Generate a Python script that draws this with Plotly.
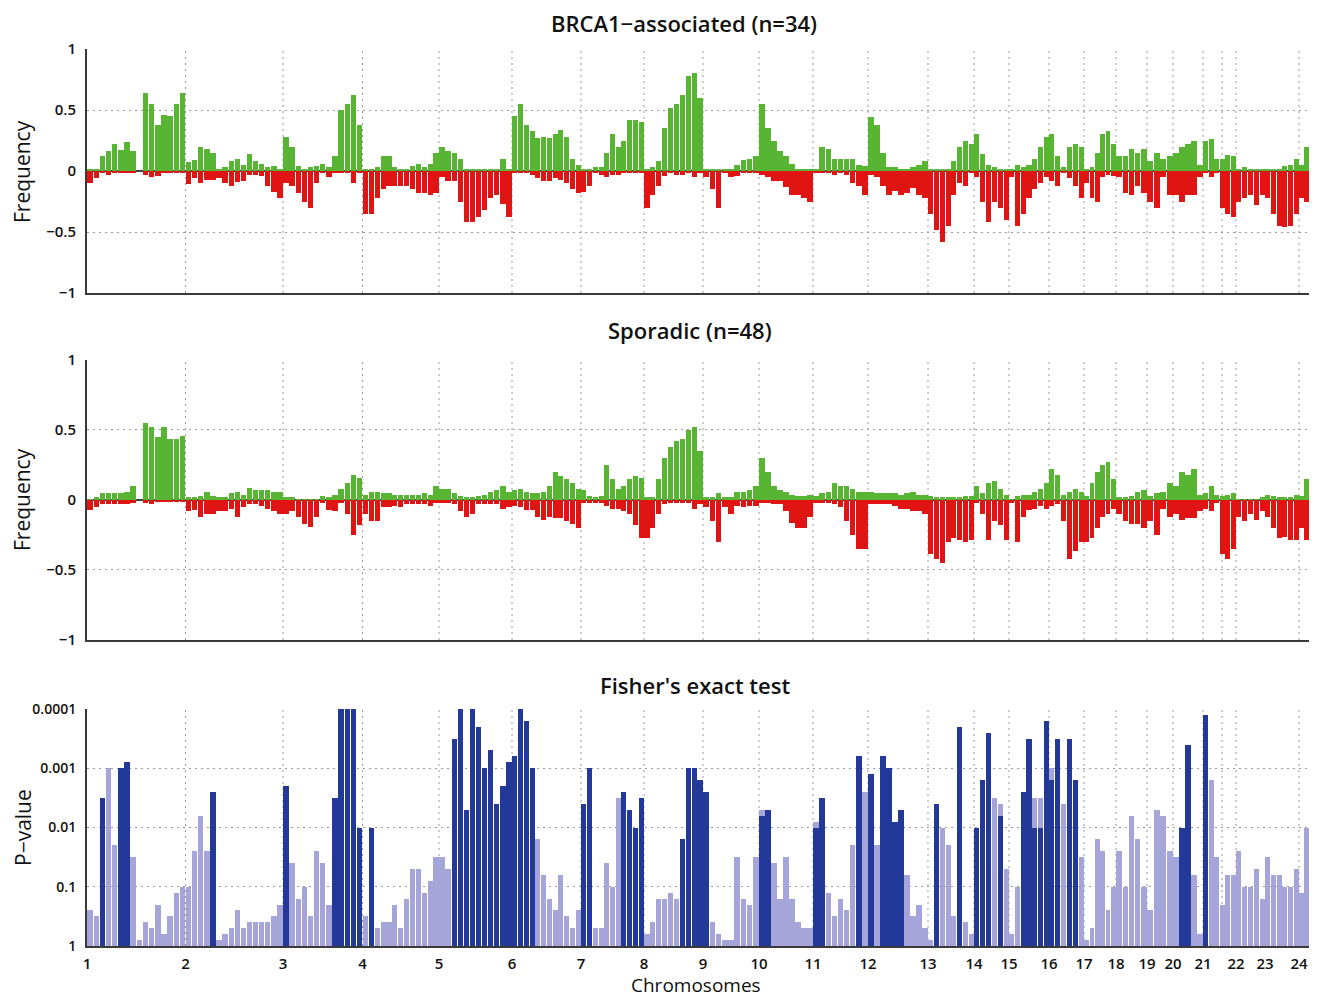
import plotly.graph_objects as go

# ---------------- chromosome layout (genome index units) ----------------
CHROM_LABELS = ["1", "2", "3", "4", "5", "6", "7", "8", "9", "10", "11", "12",
                "13", "14", "15", "16", "17", "18", "19", "20", "21", "22", "23", "24"]
CHROM_START = [0, 98.5, 196, 275.5, 352, 425, 494, 557, 616, 672, 726, 781,
               841, 887, 922, 962, 997, 1029, 1060, 1086, 1116, 1149, 1178, 1212]
GENOME_END = 1222
# dotted vertical grid lines of the original figure
GRID_X = [98.5, 196, 275.5, 352, 425, 494, 557, 616, 672, 726, 781,
          841, 887, 922, 962, 997, 1029, 1060, 1086, 1116, 1135, 1149, 1212]
BINS_PER_CHROM = [16, 16, 13, 13, 12, 12, 11, 10, 9, 9, 9, 10, 8, 6, 7, 6, 6, 5, 4, 5, 6, 5, 6, 2]

# ---------------- BRCA1-associated (n=34): frequency in % ----------------
BRCA_GAIN = [
    1, 2, 12, 16, 22, 17, 24, 16, 0, 64, 55, 38, 46, 45, 55, 64,
    7, 9, 20, 18, 15, 2, 3, 8, 10, 5, 14, 8, 6, 3, 4, 2,
    28, 20, 4, 2, 3, 4, 6, 3, 12, 50, 55, 62, 38,
    1, 2, 3, 12, 12, 3, 2, 2, 4, 6, 3, 6, 15,
    20, 16, 15, 10, 2, 2, 1, 1, 2, 2, 10, 2,
    45, 55, 38, 33, 27, 28, 27, 30, 34, 28, 10, 5,
    2, 2, 3, 3, 15, 30, 20, 25, 42, 42, 40,
    1, 3, 8, 35, 52, 55, 62, 78, 80, 60,
    2, 2, 1, 1, 2, 5, 9, 10, 12,
    55, 35, 25, 16, 12, 6, 2, 1, 2,
    2, 20, 18, 10, 10, 10, 10, 5, 4,
    44, 38, 15, 3, 3, 2, 2, 3, 5, 8,
    1, 1, 1, 2, 8, 20, 25, 22,
    30, 14, 5, 3, 2, 1,
    1, 5, 3, 5, 10, 20, 28,
    30, 12, 3, 20, 22, 20,
    2, 3, 15, 30, 33, 22,
    12, 12, 18, 15, 18,
    8, 15, 10, 12,
    15, 20, 22, 25, 5,
    25, 26, 10, 10, 13, 12,
    2, 3, 2, 1, 1,
    1, 1, 2, 4, 5, 10,
    5, 20,
]
BRCA_LOSS = [
    -10, -6, -2, -3, -2, -2, -2, -1, 0, -3, -5, -4, -1, -1, -1, -1,
    -11, -6, -10, -7, -7, -6, -10, -12, -9, -8, -3, -3, -4, -12, -17, -22,
    -10, -12, -18, -25, -30, -10, -1, -5, -2, -1, -2, -10, -1,
    -35, -35, -22, -15, -12, -12, -12, -12, -15, -18, -18, -20, -18,
    -5, -8, -8, -25, -42, -42, -38, -32, -22, -20, -27, -38,
    -2, -2, -2, -3, -6, -8, -8, -6, -7, -10, -15, -18,
    -17, -12, -2, -3, -5, -3, -3, -2, -1, -1, -2,
    -30, -20, -12, -4, -2, -3, -3, -1, -5, -1,
    -5, -15, -30, -2, -5, -4, -1, -1, -1,
    -3, -5, -8, -8, -13, -20, -20, -22, -25,
    -2, -2, -2, -3, -2, -3, -10, -12, -20,
    -3, -5, -12, -20, -16, -20, -18, -14, -20, -22,
    -35, -48, -58, -45, -20, -10, -12, -2,
    -5, -25, -42, -25, -30, -40,
    -5, -45, -35, -22, -15, -10, -5,
    -8, -12, -2, -6, -12, -22,
    -10, -22, -25, -5, -3, -4,
    -5, -18, -20, -12, -18,
    -25, -30, -5, -20,
    -20, -25, -20, -20, -5,
    -2, -5, -2, -30, -35, -38,
    -25, -22, -20, -28, -20,
    -22, -35, -45, -46, -45, -35,
    -22, -25,
]

# ---------------- Sporadic (n=48): frequency in % ----------------
SPOR_GAIN = [
    1, 2, 5, 5, 5, 5, 6, 10, 0, 55, 52, 45, 52, 44, 44, 46,
    2, 2, 3, 6, 3, 2, 2, 5, 6, 4, 9, 7, 7, 7, 6, 6,
    2, 2, 1, 1, 1, 1, 3, 2, 4, 8, 12, 18, 16,
    4, 6, 6, 5, 5, 4, 4, 4, 4, 4, 5, 4, 10,
    8, 8, 5, 3, 2, 2, 3, 4, 6, 7, 10, 6,
    7, 8, 6, 5, 5, 6, 10, 20, 17, 15, 12, 8,
    7, 3, 2, 3, 25, 15, 8, 10, 15, 17, 16,
    2, 2, 15, 30, 38, 42, 44, 50, 52, 35,
    2, 2, 5, 2, 2, 6, 6, 7, 10,
    30, 20, 10, 7, 6, 4, 3, 3, 4,
    3, 5, 6, 12, 10, 10, 8, 6, 6,
    6, 5, 5, 5, 5, 4, 5, 6, 4, 4,
    3, 2, 2, 2, 2, 2, 3, 3,
    10, 5, 12, 14, 8, 4,
    1, 3, 4, 4, 6, 8, 12,
    22, 18, 4, 6, 8, 6,
    3, 12, 20, 25, 27, 15,
    2, 2, 3, 6, 7,
    3, 5, 6, 12,
    10, 20, 18, 22, 4,
    5, 10, 4, 3, 4, 5,
    1, 1, 1, 1, 2,
    4, 3, 2, 2, 2, 4,
    3, 15,
]
SPOR_LOSS = [
    -7, -5, -3, -3, -3, -3, -3, -2, 0, -2, -3, -1, -1, -1, -1, -1,
    -8, -7, -12, -10, -10, -8, -8, -6, -12, -5, -3, -3, -4, -6, -8, -10,
    -10, -8, -12, -17, -19, -12, -2, -7, -8, -2, -10, -25, -18,
    -10, -15, -15, -5, -5, -4, -5, -3, -3, -3, -3, -4, -2,
    -2, -2, -3, -8, -12, -10, -3, -3, -3, -3, -6, -5,
    -4, -5, -7, -7, -12, -14, -12, -13, -13, -15, -17, -20,
    -2, -2, -2, -2, -4, -6, -6, -8, -10, -18, -27,
    -27, -20, -10, -3, -2, -2, -2, -2, -6, -3,
    -5, -15, -30, -5, -10, -4, -5, -4, -4,
    -2, -2, -3, -3, -8, -16, -20, -20, -12,
    -2, -2, -2, -3, -5, -15, -25, -35, -35,
    -3, -3, -3, -3, -4, -6, -6, -8, -8, -10,
    -38, -42, -45, -30, -27, -28, -30, -28,
    -2, -10, -28, -15, -18, -28,
    -2, -30, -12, -7, -6, -4, -6,
    -4, -3, -15, -42, -36, -30,
    -30, -27, -20, -12, -10, -6,
    -10, -15, -17, -17, -20,
    -15, -25, -6, -12,
    -10, -14, -13, -13, -8,
    -6, -8, -2, -38, -42, -35,
    -12, -15, -10, -14, -8,
    -12, -20, -27, -26, -28, -28,
    -20, -28,
]

# ---------------- Fisher's exact test: -log10(p) in tenths ----------------
FISHER_ALL = [
    6, 5, 6, 30, 17, 17, 18, 15, 1, 4, 3, 7, 2, 5, 9, 10,
    10, 16, 22, 16, 12, 1, 2, 3, 6, 3, 4, 4, 4, 4, 5, 7,
    18, 14, 8, 10, 5, 16, 14, 7, 6, 0, 0, 30, 12,
    5, 4, 3, 4, 4, 7, 3, 8, 13, 13, 9, 11, 15,
    15, 13, 0, 0, 0, 0, 0, 0, 0, 0, 0, 0,
    0, 0, 0, 0, 18, 12, 8, 6, 12, 5, 3, 6,
    3, 0, 3, 3, 14, 10, 25, 0, 0, 0, 6,
    2, 4, 8, 8, 9, 8, 10, 0, 0, 0,
    8, 4, 2, 1, 1, 15, 8, 7, 15,
    23, 20, 14, 8, 15, 8, 4, 3, 3,
    21, 23, 9, 5, 8, 6, 17, 0, 26,
    20, 17, 8, 0, 18, 20, 12, 5, 7, 3,
    1, 5, 20, 17, 5, 0, 4, 2,
    15, 0, 0, 25, 24, 13,
    2, 10, 15, 0, 25, 25, 0,
    30, 24, 24, 0, 24, 15,
    1, 3, 18, 16, 6, 10,
    16, 10, 22, 18, 10,
    6, 23, 22, 16,
    15, 12, 12, 12, 2,
    0, 28, 15, 7, 12, 12,
    16, 10, 10, 13, 8,
    15, 12, 12, 10, 10, 13,
    9, 20,
]
FISHER_SIG = [
    0, 0, 25, 0, 0, 30, 31, 0, 0, 0, 0, 0, 0, 0, 0, 0,
    0, 0, 0, 0, 26, 0, 0, 0, 0, 0, 0, 0, 0, 0, 0, 0,
    27, 0, 0, 0, 0, 0, 0, 0, 25, 40, 40, 40, 20,
    0, 20, 0, 0, 0, 0, 0, 0, 0, 0, 0, 0, 0,
    0, 0, 35, 40, 23, 40, 37, 30, 33, 24, 27, 31,
    32, 40, 38, 30, 0, 0, 0, 0, 0, 0, 0, 0,
    24, 30, 0, 0, 0, 0, 0, 26, 23, 20, 25,
    0, 0, 0, 0, 0, 0, 18, 30, 30, 28,
    26, 0, 0, 0, 0, 0, 0, 0, 0,
    22, 23, 0, 0, 0, 0, 0, 0, 0,
    20, 25, 0, 0, 0, 0, 0, 32, 0,
    29, 0, 32, 30, 21, 23, 0, 0, 0, 0,
    0, 24, 0, 0, 0, 37, 0, 0,
    20, 28, 36, 0, 22, 0,
    0, 0, 26, 35, 20, 20, 38,
    28, 35, 0, 35, 28, 0,
    0, 0, 0, 0, 0, 0,
    0, 0, 0, 0, 0,
    0, 0, 0, 0,
    0, 20, 34, 0, 0,
    39, 0, 0, 0, 0, 0,
    0, 0, 0, 0, 0,
    0, 0, 0, 0, 0, 0,
    0, 0,
]
P_TICK_VALS = [0, 1, 2, 3, 4]
P_TICK_TEXT = ["1", "0.1", "0.01", "0.001", "0.0001"]
F_TICK_VALS = [-1, -0.5, 0, 0.5, 1]
F_TICK_TEXT = ["\u22121", "\u22120.5", "0", "0.5", "1"]

# ---------------- styling ----------------
GREEN = "#58b534"
RED = "#e11414"
DARK_BLUE = "#23399a"
LIGHT_BLUE = "#a5a5d9"
GRID = "#9a9a9a"
AXIS = "#3a3a3a"
FONT = "Open Sans"
PAGE_MARGIN = 8                     # default browser body margin
W, H = 1317 - 2 * PAGE_MARGIN, 1007 - 2 * PAGE_MARGIN
ML, MR = 87 - PAGE_MARGIN, 0

# bin centres along the genome axis
centers, widths = [], []
ends = CHROM_START[1:] + [GENOME_END]
for s, e, n in zip(CHROM_START, ends, BINS_PER_CHROM):
    w = (e - s) / n
    for i in range(n):
        centers.append(s + (i + 0.5) * w)
        widths.append(w * 0.88)
N = len(centers)
for arr in (BRCA_GAIN, BRCA_LOSS, SPOR_GAIN, SPOR_LOSS, FISHER_ALL, FISHER_SIG):
    assert len(arr) == N, (len(arr), N)

fig = go.Figure()


def bars(vals, scale, color, xa, ya):
    fig.add_trace(go.Bar(x=centers, y=[v / scale for v in vals], width=widths,
                         marker=dict(color=color, line=dict(width=0)),
                         xaxis=xa, yaxis=ya, hoverinfo="skip"))


bars(BRCA_GAIN, 100, GREEN, "x", "y")
bars(BRCA_LOSS, 100, RED, "x", "y")
bars(SPOR_GAIN, 100, GREEN, "x2", "y2")
bars(SPOR_LOSS, 100, RED, "x2", "y2")
bars(FISHER_ALL, 10, LIGHT_BLUE, "x3", "y3")
bars(FISHER_SIG, 10, DARK_BLUE, "x3", "y3")


def py(page_y):
    return (H - (page_y - PAGE_MARGIN)) / H


def px_x(page_x):
    return (page_x - PAGE_MARGIN - ML) / (W - ML - MR)


ytickfont = dict(family=FONT, size=15, color="#111", weight=600)


def xaxis(anchor, labels):
    return dict(domain=[0, 1], anchor=anchor, range=[0, GENOME_END],
                tickvals=CHROM_START, ticktext=CHROM_LABELS, showticklabels=labels,
                ticks="", showgrid=False, zeroline=False, showline=True,
                linecolor=AXIS, linewidth=2,
                tickfont=dict(family=FONT, size=15, color="#111", weight=600),
                ticklabelstandoff=3, fixedrange=True)


def freq_axis(anchor, top, bottom):
    return dict(domain=[py(bottom), py(top)], anchor=anchor, range=[-1, 1],
                tickvals=F_TICK_VALS, ticktext=F_TICK_TEXT, ticks="",
                showgrid=True, gridcolor=GRID, gridwidth=1, griddash="2px,4px",
                zeroline=True, zerolinecolor="#444", zerolinewidth=1.5,
                showline=True, linecolor=AXIS, linewidth=2, tickfont=ytickfont,
                ticklabelstandoff=6, fixedrange=True)


layout = dict(
    width=W, height=H, margin=dict(l=ML, r=MR, t=0, b=0, autoexpand=False),
    paper_bgcolor="white", plot_bgcolor="white", showlegend=False,
    barmode="overlay", bargap=0,
    font=dict(family=FONT, color="#111"),
    xaxis=xaxis("y", False), xaxis2=xaxis("y2", False), xaxis3=xaxis("y3", True),
    yaxis=freq_axis("x", 49, 293),
    yaxis2=freq_axis("x2", 359.5, 640),
    yaxis3=dict(domain=[py(946), py(709)], anchor="x3", range=[0, 4],
                tickvals=P_TICK_VALS, ticktext=P_TICK_TEXT, ticks="",
                showgrid=True, gridcolor=GRID, gridwidth=1, griddash="2px,4px",
                zeroline=False, showline=True, linecolor=AXIS, linewidth=2,
                tickfont=dict(family=FONT, size=14, color="#111", weight=600),
                ticklabelstandoff=6, fixedrange=True),
)
fig.update_layout(**layout)

# dotted chromosome-boundary lines
for xr, yr in (("x", "y"), ("x2", "y2"), ("x3", "y3")):
    for g in GRID_X:
        fig.add_shape(type="line", xref=xr, yref=yr + " domain", x0=g, x1=g, y0=0, y1=1,
                      line=dict(color=GRID, width=1, dash="2px,4px"), layer="below")

title_font = dict(family=FONT, size=22, color="#111", weight=600)
for text, xpx, ypx in (("BRCA1\u2212associated (n=34)", 683.5, 23),
                       ("Sporadic (n=48)", 690, 330),
                       ("Fisher's exact test", 695, 685)):
    fig.add_annotation(text=text, xref="paper", yref="paper", x=px_x(xpx), y=py(ypx),
                       showarrow=False, font=title_font, xanchor="center", yanchor="middle")

label_font = dict(family=FONT, size=21, color="#111", weight=500)
fig.add_annotation(text="Chromosomes", xref="paper", yref="paper", x=px_x(696), y=0,
                   showarrow=False, font=dict(family=FONT, size=19, color="#111", weight=500),
                   xanchor="center", yanchor="bottom", borderpad=0)

for text, xpx, ypx in (("Frequency", 22, 172), ("Frequency", 22, 500), ("P\u2212value", 23, 828)):
    fig.add_annotation(text=text, xref="paper", yref="paper", x=px_x(xpx), y=py(ypx),
                       showarrow=False, font=label_font, textangle=-90,
                       xanchor="center", yanchor="middle", borderpad=0)

fig.write_html("out.html")
